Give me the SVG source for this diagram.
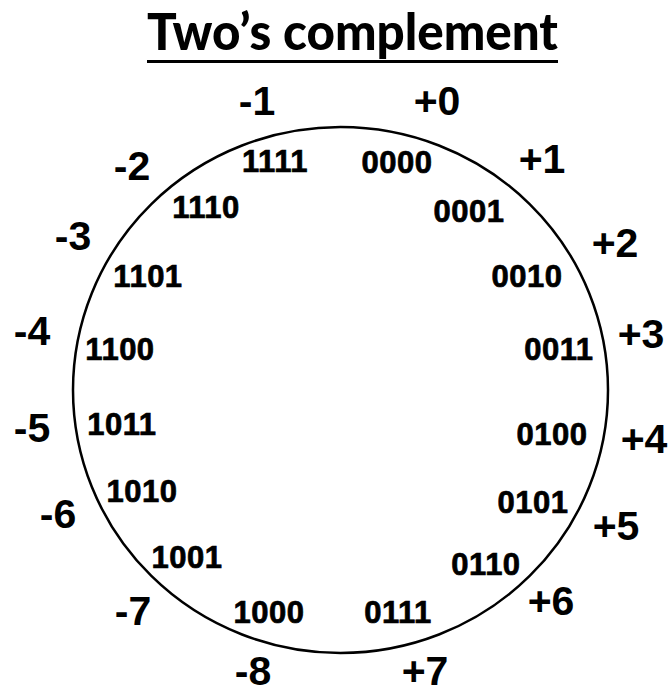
<svg xmlns="http://www.w3.org/2000/svg" width="671" height="694" viewBox="0 0 671 694">
<style>
.t{font-family:"Lato","Open Sans","Liberation Sans",sans-serif;font-weight:900;font-size:51px;fill:#000}
.d{font-family:"Liberation Sans",Arial,sans-serif;font-weight:bold;font-size:41px;fill:#000;text-anchor:middle}
.b{font-family:"Liberation Sans",Arial,sans-serif;font-weight:bold;font-size:31px;fill:#000;stroke:#000;stroke-width:0.7px;text-anchor:middle;letter-spacing:0.5px}
</style>
<rect width="671" height="694" fill="#fff"/>
<g id="title">
<text class="t" x="147" y="50" textLength="411" lengthAdjust="spacingAndGlyphs">Two’s complement</text>
<line x1="147" y1="61.5" x2="558" y2="61.5" stroke="#000" stroke-width="3"/>
</g>
<g id="ring">
<ellipse cx="340.5" cy="390" rx="267.5" ry="263" fill="none" stroke="#000" stroke-width="2.5"/>
</g>
<g id="n0"><text class="d" x="437" y="115">+0</text><text class="b" x="397" y="173">0000</text></g>
<g id="n1"><text class="d" x="542" y="173">+1</text><text class="b" x="469" y="222">0001</text></g>
<g id="n2"><text class="d" x="615" y="257">+2</text><text class="b" x="527" y="287">0010</text></g>
<g id="n3"><text class="d" x="641" y="348">+3</text><text class="b" x="559" y="360">0011</text></g>
<g id="n4"><text class="d" x="644" y="453">+4</text><text class="b" x="552" y="445">0100</text></g>
<g id="n5"><text class="d" x="616" y="540">+5</text><text class="b" x="533" y="513">0101</text></g>
<g id="n6"><text class="d" x="551" y="615">+6</text><text class="b" x="486" y="575">0110</text></g>
<g id="n7"><text class="d" x="425" y="685">+7</text><text class="b" x="398" y="623">0111</text></g>
<g id="n-8"><text class="d" x="253" y="685">-8</text><text class="b" x="269" y="623">1000</text></g>
<g id="n-7"><text class="d" x="133" y="625">-7</text><text class="b" x="187" y="568">1001</text></g>
<g id="n-6"><text class="d" x="58" y="528">-6</text><text class="b" x="142" y="502">1010</text></g>
<g id="n-5"><text class="d" x="32" y="442">-5</text><text class="b" x="122" y="435">1011</text></g>
<g id="n-4"><text class="d" x="32" y="345">-4</text><text class="b" x="120" y="360">1100</text></g>
<g id="n-3"><text class="d" x="73" y="250">-3</text><text class="b" x="148" y="287">1101</text></g>
<g id="n-2"><text class="d" x="132" y="180">-2</text><text class="b" x="206" y="218">1110</text></g>
<g id="n-1"><text class="d" x="257" y="115">-1</text><text class="b" x="275" y="172">1111</text></g>
</svg>
